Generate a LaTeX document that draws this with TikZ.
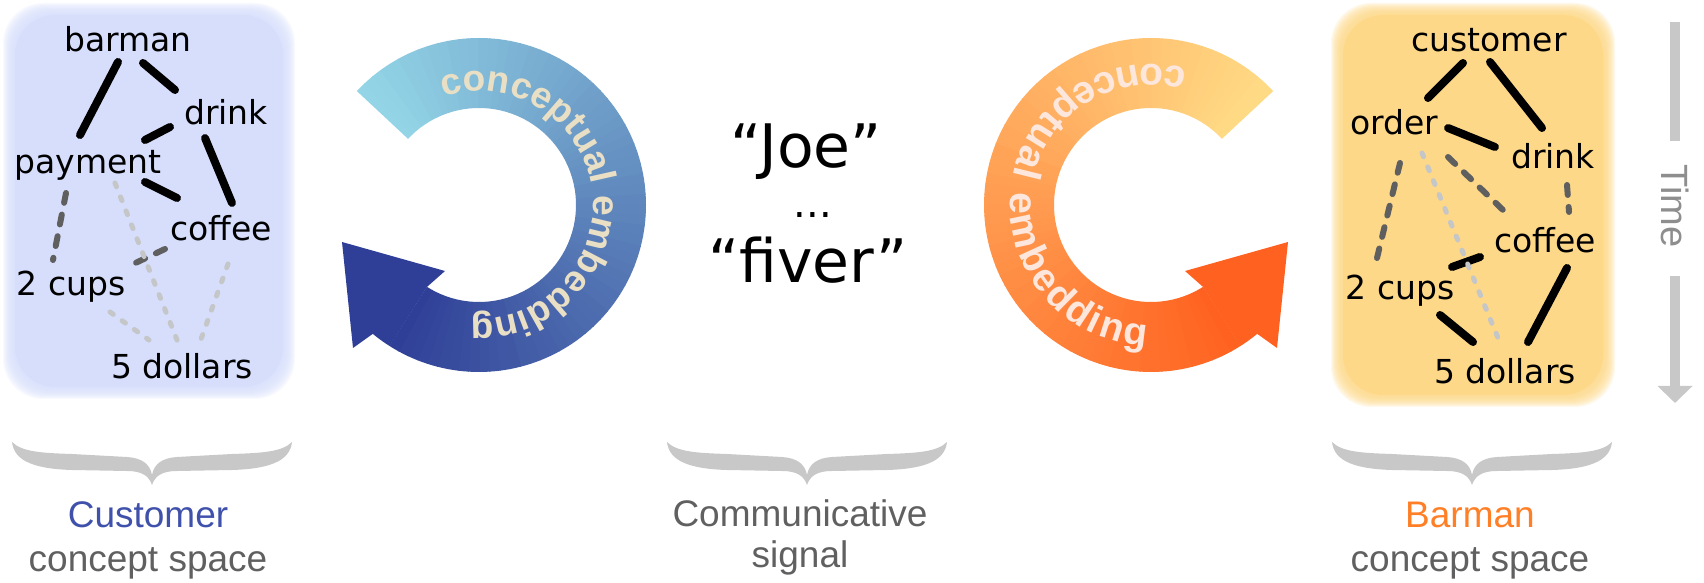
\documentclass[tikz,border=0pt]{standalone}
\usepackage{fontspec}
\setmainfont{DejaVu Sans}
\setsansfont{Liberation Sans}
\usepackage{tikz}
\usepackage{xcolor}
\usetikzlibrary{arrows.meta,decorations.text,positioning}

\definecolor{custfill}{HTML}{D6DEFB}
\definecolor{barfill}{HTML}{FDD888}
\definecolor{tiedark}{HTML}{5F5F5F}
\definecolor{tielight}{HTML}{C4C6C8}
\definecolor{embedcyan}{HTML}{93D5E6}
\definecolor{embedblue}{HTML}{2F3F97}
\definecolor{embedyellow}{HTML}{FFDA85}
\definecolor{embedorange}{HTML}{FF6220}
\definecolor{bluetext}{HTML}{E9DFC5}
\definecolor{orangetext}{HTML}{FDE6DC}
\definecolor{bracegrey}{HTML}{C8C8C8}
\definecolor{labelgrey}{HTML}{606060}
\definecolor{custblue}{HTML}{3F51AA}
\definecolor{barorange}{HTML}{FF7F27}
\definecolor{timegrey}{HTML}{8E8E8E}

\tikzstyle{word} = [inner sep=0pt, font=\fontsize{33}{33}\selectfont]
\tikzstyle{strongtie} = [line width=8pt, line cap=round]
\tikzstyle{mediumtie} = [line width=6pt, line cap=round, draw=tiedark, dash pattern=on 10pt off 12pt]
\tikzstyle{weaktie} = [line width=5pt, line cap=round, draw=tielight, dash pattern=on 4pt off 11pt]
\tikzstyle{utterance} = [inner sep=0pt, anchor=base, font=\fontsize{60}{60}\selectfont]
\tikzstyle{spacelabel} = [inner sep=0pt, anchor=base, text=labelgrey, font=\sffamily\fontsize{37}{37}\selectfont]
\tikzstyle{timeline} = [line width=10pt, draw=bracegrey]
\tikzset{
  curlybrace/.pic={
    \fill[bracegrey] (-140,0) .. controls (-130,-10) and (-110,-11) .. (-80,-12) -- (-25,-15)
      .. controls (-10,-16) and (-2,-22) .. (0,-33)
      .. controls (2,-22) and (10,-16) .. (25,-15) -- (80,-12)
      .. controls (110,-11) and (130,-10) .. (140,0)
      .. controls (138,-20) and (115,-27) .. (80,-28) -- (25,-29)
      .. controls (10,-29) and (3,-34) .. (0,-43)
      .. controls (-3,-34) and (-10,-29) .. (-25,-29) -- (-80,-28)
      .. controls (-115,-27) and (-138,-20) .. (-140,0) -- cycle;
  }
}

\begin{document}
\begin{tikzpicture}[x=1pt, y=1pt]
\useasboundingbox (0,0) rectangle (1704,583);

% customer concept space
\foreach \g in {1,...,12}
  \fill[custfill, opacity=0.16, rounded corners=40pt] (15-\g,196-\g) rectangle (283+\g,568+\g);
\fill[custfill, rounded corners=40pt] (15,196) rectangle (283,568);

\node (barman) [word] at (128,544) {barman};
\node (drinkc) [word] at (226,471) {drink};
\node (payment) [word] at (88,418) {payment};
\node (coffeec) [word] at (221,355) {coffee};
\node (cupsc) [word] at (71,296) {2 cups};
\node (dollarsc) [word] at (182,217) {5 dollars};

\draw[strongtie] ([shift={(-10,-23)}]barman.center) -- ([shift={(-8,30)}]payment.center);
\draw[strongtie] ([shift={(15,-24)}]barman.center) -- ([shift={(-51,22)}]drinkc.center);
\draw[strongtie] ([shift={(-56,-15)}]drinkc.center) -- ([shift={(57,25)}]payment.center);
\draw[strongtie] ([shift={(-21,-26)}]drinkc.center) -- ([shift={(11,25)}]coffeec.center);
\draw[strongtie] ([shift={(57,-17)}]payment.center) -- ([shift={(-44,30)}]coffeec.center);
\draw[mediumtie] ([shift={(-22,-28)}]payment.center) -- ([shift={(-18,27)}]cupsc.center);
\draw[mediumtie] ([shift={(-56,-21)}]coffeec.center) -- ([shift={(56,20)}]cupsc.center);
\draw[weaktie] ([shift={(27,-18)}]payment.center) -- ([shift={(-5,26)}]dollarsc.center);
\draw[weaktie] ([shift={(7,-36)}]coffeec.center) -- ([shift={(18,24)}]dollarsc.center);
\draw[weaktie] ([shift={(39,-25)}]cupsc.center) -- ([shift={(-33,26)}]dollarsc.center);

% barman concept space
\foreach \g in {1,...,12}
  \fill[barfill, opacity=0.16, rounded corners=40pt] (1343-\g,188-\g) rectangle (1603+\g,568+\g);
\fill[barfill, rounded corners=40pt] (1343,188) rectangle (1603,568);

\node (customer) [word] at (1489,543) {customer};
\node (order) [word] at (1394,461) {order};
\node (drinkb) [word] at (1553,427) {drink};
\node (coffeeb) [word] at (1545,343) {coffee};
\node (cupsb) [word] at (1400,292) {2 cups};
\node (dollarsb) [word] at (1505,212) {5 dollars};

\draw[strongtie] ([shift={(-26,-23)}]customer.center) -- ([shift={(34,24)}]order.center);
\draw[strongtie] ([shift={(1,-22)}]customer.center) -- ([shift={(-11,28)}]drinkb.center);
\draw[strongtie] ([shift={(54,-6)}]order.center) -- ([shift={(-58,9)}]drinkb.center);
\draw[strongtie] ([shift={(-65,-17)}]coffeeb.center) -- ([shift={(52,24)}]cupsb.center);
\draw[strongtie] ([shift={(22,-28)}]coffeeb.center) -- ([shift={(23,29)}]dollarsb.center);
\draw[strongtie] ([shift={(40,-24)}]cupsb.center) -- ([shift={(-32,29)}]dollarsb.center);
\draw[mediumtie] ([shift={(6,-41)}]order.center) -- ([shift={(-23,33)}]cupsb.center);
\draw[mediumtie] ([shift={(54,-35)}]order.center) -- ([shift={(-42,30)}]coffeeb.center);
\draw[mediumtie] ([shift={(14,-29)}]drinkb.center) -- ([shift={(24,28)}]coffeeb.center);
\draw[weaktie] ([shift={(28,-31)}]order.center) -- ([shift={(-7,33)}]dollarsb.center);

% blue embedding arrow
\foreach \i in {0,...,71}{
  \pgfmathsetmacro\sa{137-3.6*\i}
  \pgfmathsetmacro\ea{\sa-3.9}
  \pgfmathtruncatemacro\mix{100*\i/71}
  \fill[embedblue!\mix!embedcyan, shift={(479,378)}] (\sa:167) arc[start angle=\sa, end angle=\ea, radius=167]
    -- (\ea:97) arc[start angle=\ea, end angle=\sa, radius=97] -- cycle;
}
\fill[embedblue, shift={(479,378)}] (-122.4:97) -- (-122.4:167) arc[start angle=-122.4, end angle=-129.5, radius=167]
  -- (-126,-143) -- (-137,-37) -- (-34,-66) -- cycle;
\path[shift={(479,378)}, decorate, decoration={text along path, text align=center,
  text={|\sffamily\bfseries\fontsize{37}{37}\selectfont\color{bluetext}|conceptual embedding}}]
  (187:114) arc[start angle=187, end angle=-173, radius=114];

% orange embedding arrow
\foreach \i in {0,...,71}{
  \pgfmathsetmacro\sa{43+3.6*\i}
  \pgfmathsetmacro\ea{\sa+3.9}
  \pgfmathtruncatemacro\mix{100*\i/71}
  \fill[embedorange!\mix!embedyellow, shift={(1151,378)}] (\sa:167) arc[start angle=\sa, end angle=\ea, radius=167]
    -- (\ea:97) arc[start angle=\ea, end angle=\sa, radius=97] -- cycle;
}
\fill[embedorange, shift={(1151,378)}] (302.4:97) -- (302.4:167) arc[start angle=302.4, end angle=309.5, radius=167]
  -- (126,-143) -- (137,-37) -- (34,-66) -- cycle;
\path[shift={(1151,378)}, decorate, decoration={text along path, text align=fit to path,
  text={|\sffamily\bfseries\fontsize{39}{39}\selectfont\color{orangetext}|conceptual embedding}}]
  (75:141) arc[start angle=75, end angle=268, radius=141];

% communicative signal
\node (joe) [utterance] at (806,415) {“Joe”};
\node (ellipsis) [utterance, font=\fontsize{40}{40}\selectfont] at (813,365) {...};
\node (fiver) [utterance] at (808,300) {“fiver”};

% time arrow
\coordinate (timestart) at (1675,561);
\coordinate (timeend) at (1675,180);
\node (time) [rotate=-90, inner sep=0pt, text=timegrey, font=\sffamily\fontsize{38}{38}\selectfont] at (1675,377) {Time};
\draw[timeline, shorten >=23pt] (timestart) -- (time.west);
\draw[timeline, shorten <=28pt, -{Triangle[width=34pt,length=17pt]}] (time.east) -- (timeend);

% braces and captions
\pic (custbrace) at (152,141) {curlybrace};
\pic (signalbrace) at (807,141) {curlybrace};
\pic (barbrace) at (1472,141) {curlybrace};

\node (custname) [spacelabel, text=custblue] at (148,55) {Customer};
\node (custspace) [spacelabel] at ([yshift=-44pt]custname.base) {concept space};
\node (signalname) [spacelabel] at (800,56) {Communicative};
\node (signalword) [spacelabel] at ([yshift=-41pt]signalname.base) {signal};
\node (barname) [spacelabel, text=barorange] at (1470,55) {Barman};
\node (barspace) [spacelabel] at ([yshift=-44pt]barname.base) {concept space};
\end{tikzpicture}
\end{document}
